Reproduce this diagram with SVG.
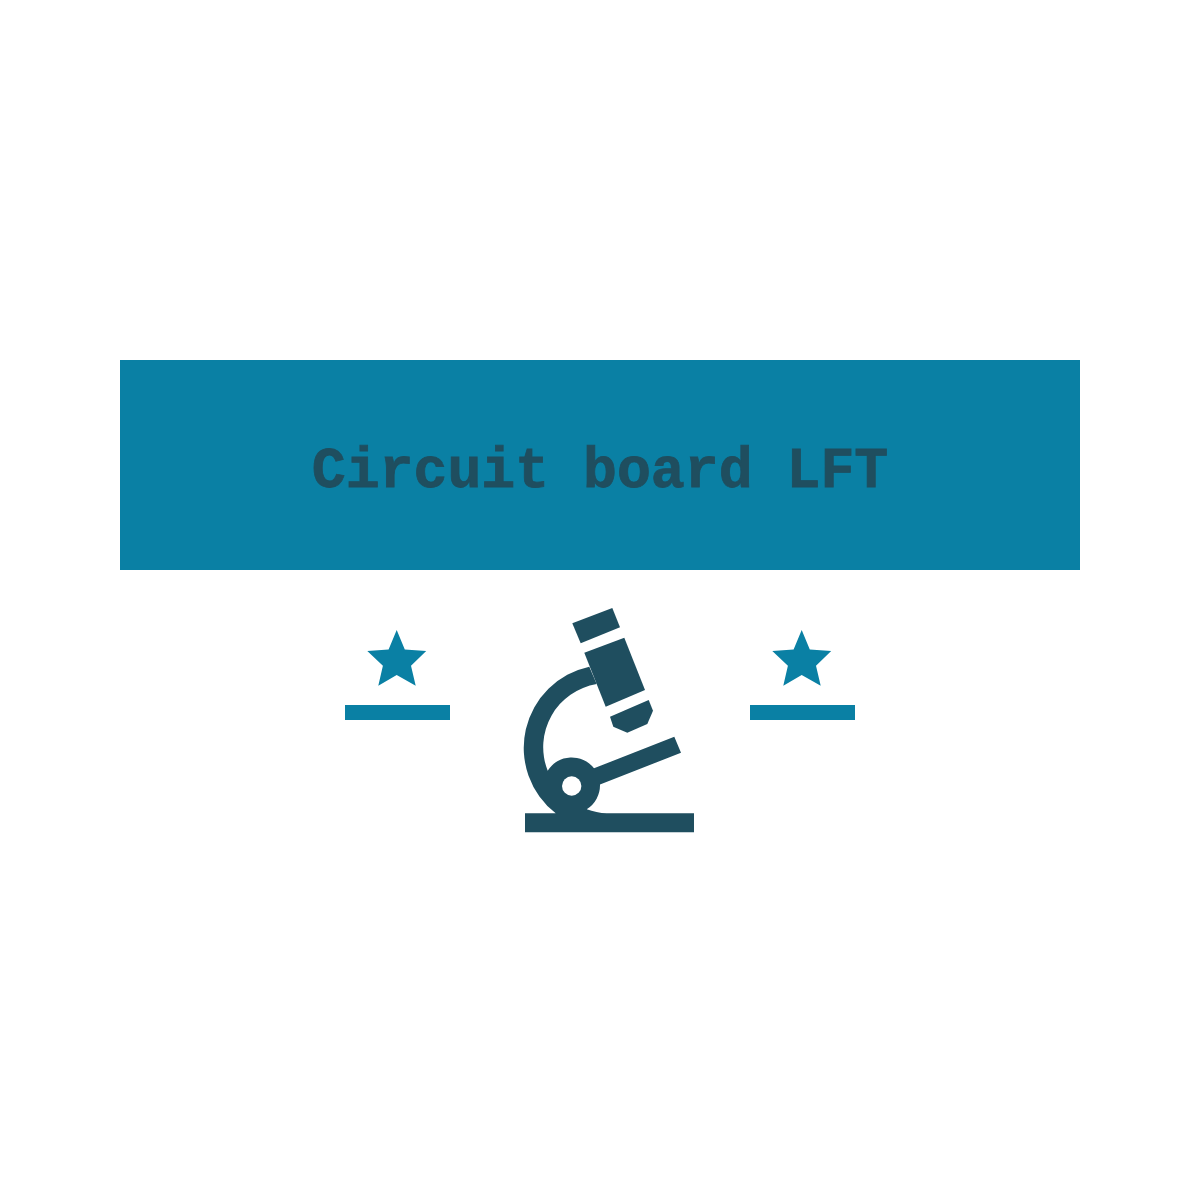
<svg xmlns="http://www.w3.org/2000/svg" width="1200" height="1200" viewBox="0 0 1200 1200">
<style>
.teal{fill:#0a80a4}
.dark{fill:#1f4e5f}
.title{font-family:"Liberation Mono","DejaVu Sans Mono",monospace;font-weight:700;font-size:56.5px;fill:#1f4e5f;stroke:#1f4e5f;stroke-width:.8;text-anchor:middle}
</style>
<defs>
<path id="star" d="M396.7 630L404.8 649.5L426.2 651L411 665.7L415.7 685.7L396.7 675L378.3 685.7L382.9 665.7L367.3 651L388.6 649.5Z"/>
</defs>
<rect width="1200" height="1200" fill="#fff"/>
<g id="banner">
<rect class="teal" x="120" y="360" width="960" height="210"/>
<text class="title" x="600" y="487">Circuit board LFT</text>
</g>
<g id="star-left">
<use href="#star" class="teal"/>
<rect class="teal" x="345" y="705" width="105" height="15"/>
</g>
<g id="star-right">
<use href="#star" class="teal" x="405"/>
<rect class="teal" x="750" y="705" width="105" height="15"/>
</g>
<g id="microscope" class="dark">
<path d="M572.3 623.3L612.3 608L620 627.3L580.7 643.3Z"/>
<path d="M584.3 652.7L624.3 637.7L645 690L605.7 706.7Z"/>
<path d="M610 716.7L648.7 700L653 710.7L647.3 724L627.3 732.7L613.3 726.7Z"/>
<path d="M589.3 666.7A83 83 0 0 0 555.7 813.3H525V832.3H694V813.3H606.7C600 813.3 593 811.5 586.7 809.3A28.3 28.3 0 0 0 600 784.6L681 752.7L674.3 736.7L594 768.3A28.3 28.3 0 0 0 547.7 770.7A64 64 0 0 1 596.7 684Z"/>
<circle cx="571.7" cy="786" r="9.7" fill="#fff"/>
</g>
</svg>
